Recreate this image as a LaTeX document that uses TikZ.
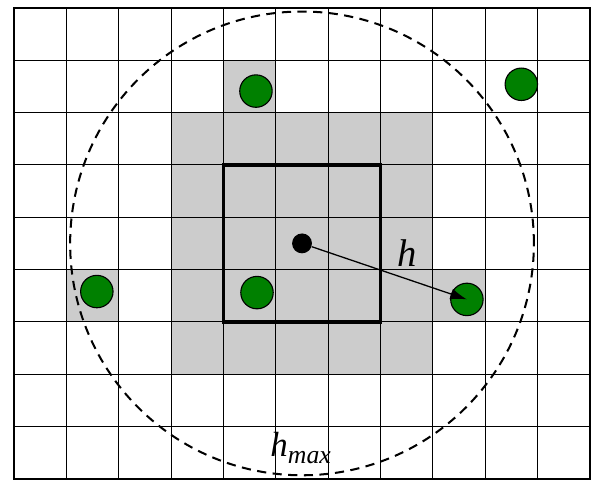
\documentclass[tikz,border=0pt]{standalone}
\usepackage{fontspec}
\setmainfont{Liberation Serif}
\usetikzlibrary{arrows.meta}

\tikzset{
  cellfill/.style={fill=black!20},
  sample/.style={circle, draw=black, line width=0.6pt, fill=green!50!black, minimum size=0.62cm, inner sep=0pt},
  centre/.style={circle, fill=black, minimum size=0.38cm, inner sep=0pt}
}

\begin{document}
\begin{tikzpicture}[x=1cm,y=1cm]
			\useasboundingbox (-0.27,-0.02) rectangle (11.04,9.15);
			% shaded cells
			\fill[cellfill] (3,2) rectangle (8,7);
			\fill[cellfill] (4,7) rectangle (5,8);
			\fill[cellfill] (1,3) rectangle (2,4);
			\fill[cellfill] (8,3) rectangle (9,4);
			% grid and frames
			\draw[line width=0.6pt] (0,0) grid (11,9);
			\draw[line width=1.2pt] (0,0) rectangle (11,9);
			\draw[line width=1.8pt] (4,3) rectangle (7,6);
			% centre point and search radius
			\node[centre] (c) at (5.5,4.5) {};
			\draw[line width=1.1pt, dash pattern=on 5pt off 3.5pt] (c.center) circle(4.43);
			% samples
			\node[sample] (g1) at (4.62,7.41) {};
			\node[sample] (g2) at (9.69,7.54) {};
			\node[sample] (g3) at (1.58,3.58) {};
			\node[sample] (g4) at (4.64,3.56) {};
			\node[sample] (g5) at (8.65,3.43) {};
			\draw[line width=0.7pt, -{Latex[length=9pt,width=6pt]}] (c) -- (g5.center);
			\node[anchor=base west, inner sep=0pt, font=\fontsize{21}{24}\selectfont\itshape] (hlab) at (7.31,4.05) {h};
			\node[anchor=base west, inner sep=0pt, font=\fontsize{19}{22}\selectfont\itshape] (hmax) at (4.89,0.42) {h\raisebox{-3.3pt}{\fontsize{14}{16}\selectfont max}};
\end{tikzpicture}
\end{document}
